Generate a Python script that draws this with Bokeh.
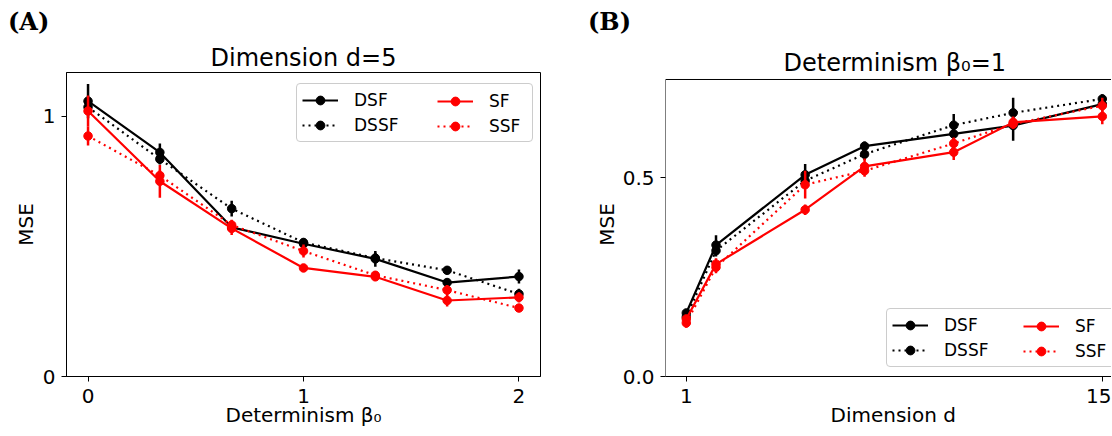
from bokeh.plotting import figure
from bokeh.models import (ColumnDataSource, Legend, LegendItem, FixedTicker, Range1d,
                          Title, Div, BoxAnnotation)
from bokeh.layouts import row, column
from bokeh.embed import file_html
from bokeh.resources import INLINE

FONT = "DejaVu Sans"

# ---------------- data ----------------
series_names = ["DSF", "DSSF", "SF", "SSF"]

# Panel A: Dimension d=5, x = determinism beta0
beta0 = [0, 1/3, 2/3, 1, 4/3, 5/3, 2]
a_dsf = [1.058, 0.861, 0.573, 0.510, 0.452, 0.361, 0.384]
a_dsf_err = [0.066, 0.034, 0.015, 0.020, 0.030, 0.015, 0.027]
a_dssf = [1.035, 0.835, 0.645, 0.515, 0.455, 0.408, 0.317]
a_dssf_err = [0.020, 0.020, 0.030, 0.015, 0.020, 0.015, 0.020]
a_sf = [1.020, 0.750, 0.569, 0.417, 0.383, 0.292, 0.304]
a_sf_err = [0.060, 0.063, 0.025, 0.010, 0.015, 0.023, 0.020]
a_ssf = [0.924, 0.772, 0.582, 0.482, 0.389, 0.332, 0.263]
a_ssf_err = [0.036, 0.020, 0.020, 0.025, 0.015, 0.020, 0.015]

# Panel B: Determinism beta0=1, x = dimension d
dims = [1, 2, 5, 7, 10, 12, 15]
b_dsf = [0.160, 0.331, 0.508, 0.580, 0.611, 0.632, 0.686]
b_dsf_err = [0.010, 0.025, 0.027, 0.012, 0.015, 0.038, 0.015]
b_dssf = [0.150, 0.317, 0.493, 0.560, 0.633, 0.664, 0.699]
b_dssf_err = [0.010, 0.015, 0.015, 0.015, 0.028, 0.038, 0.012]
b_sf = [0.145, 0.283, 0.420, 0.529, 0.565, 0.640, 0.655]
b_sf_err = [0.010, 0.015, 0.013, 0.020, 0.020, 0.015, 0.020]
b_ssf = [0.135, 0.275, 0.483, 0.518, 0.587, 0.636, 0.682]
b_ssf_err = [0.012, 0.015, 0.035, 0.015, 0.015, 0.012, 0.020]

a_xticks = [0, 1, 2]
a_xtick_labels = ["0", "1", "2"]
a_yticks = [0, 1]
a_ytick_labels = ["0", "1"]
b_xticks = [1, 15]
b_xtick_labels = ["1", "15"]
b_yticks = [0, 0.5]
b_ytick_labels = ["0.0", "0.5"]

STYLES = {
    "DSF": ("#000000", "solid"),
    "DSSF": ("#000000", "2 4"),
    "SF": ("#ff0000", "solid"),
    "SSF": ("#ff0000", "2 4"),
}


def key(t):
    return int(t) if float(t).is_integer() else t


FRAME_H = 304
BORDER_TOP = 37
BORDER_BOTTOM = 60


def make_panel(xs, ys, errs, xr, yr, xticks, xlabels, yticks, ylabels,
               frame_w, bl, br, ylab_standoff):
    p = figure(frame_width=frame_w, frame_height=FRAME_H,
               x_range=Range1d(*xr), y_range=Range1d(*yr),
               output_backend="svg", toolbar_location=None,
               min_border_left=bl, min_border_right=br,
               min_border_top=BORDER_TOP, min_border_bottom=BORDER_BOTTOM)
    p.grid.visible = False
    p.outline_line_color = "black"
    p.outline_line_width = 1
    p.outline_line_alpha = 1
    p.background_fill_color = "white"
    p.border_fill_color = "white"
    for ax in (p.xaxis[0], p.yaxis[0]):
        ax.major_tick_out = 5
        ax.major_tick_in = 0
        ax.minor_tick_out = 0
        ax.minor_tick_in = 0
        ax.major_tick_line_color = "black"
        ax.axis_line_color = "black"
        ax.major_label_text_font = FONT
        ax.major_label_text_font_size = "20px"
        ax.major_label_text_color = "black"
        ax.axis_label_text_font = FONT
        ax.axis_label_text_font_size = "20px"
        ax.axis_label_text_font_style = "normal"
        ax.axis_label_text_color = "black"
    p.xaxis.major_label_standoff = 7
    p.yaxis.major_label_standoff = 6
    p.xaxis.ticker = FixedTicker(ticks=xticks)
    p.xaxis.major_label_overrides = {key(t): l for t, l in zip(xticks, xlabels)}
    p.yaxis.ticker = FixedTicker(ticks=yticks)
    p.yaxis.major_label_overrides = {key(t): l for t, l in zip(yticks, ylabels)}
    p.yaxis.axis_label = "MSE"
    p.yaxis.axis_label_standoff = ylab_standoff

    rends = {}
    for name in series_names:
        color, dash = STYLES[name]
        y = ys[name]
        e = errs[name]
        src = ColumnDataSource(dict(x=xs, y=y,
                                    lo=[a - b for a, b in zip(y, e)],
                                    hi=[a + b for a, b in zip(y, e)]))
        p.segment(x0="x", y0="lo", x1="x", y1="hi", source=src, line_color=color, line_width=2.5)
        lr = p.line("x", "y", source=src, line_color=color, line_width=2.2, line_dash=dash)
        sr = p.scatter("x", "y", source=src, size=8.5, marker="circle",
                       fill_color=color, line_color=color, line_width=1)
        rends[name] = [lr, sr]
    return p, rends


def add_legends(p, rends, loc_a, loc_b, label_width_a):
    common = dict(orientation="vertical", glyph_width=36, glyph_height=22, label_height=22,
                  spacing=3, padding=5, margin=0, label_standoff=16,
                  label_text_font=FONT, label_text_font_size="17px", label_text_color="black")
    la = Legend(items=[LegendItem(label=n, renderers=rends[n]) for n in ["DSF", "DSSF"]],
                location=loc_a, label_width=label_width_a,
                border_line_color="#cccccc", border_line_width=1, border_line_alpha=1,
                background_fill_color="white", background_fill_alpha=0.8, **common)
    if "border_radius" in Legend.properties():
        la.border_radius = 4
    lb = Legend(items=[LegendItem(label=n, renderers=rends[n]) for n in ["SF", "SSF"]],
                location=loc_b, border_line_alpha=0, background_fill_alpha=0, **common)
    p.add_layout(la)
    p.add_layout(lb)


def make_title(text, align, offset, standoff, size="24px"):
    return Title(text=text, align=align, offset=offset, text_font=FONT, text_font_size=size,
                 text_font_style="normal", text_color="black", standoff=standoff)


# ---------------- panel A ----------------
pa, ra = make_panel(beta0,
                    {"DSF": a_dsf, "DSSF": a_dssf, "SF": a_sf, "SSF": a_ssf},
                    {"DSF": a_dsf_err, "DSSF": a_dssf_err, "SF": a_sf_err, "SSF": a_ssf_err},
                    (-0.1, 2.1), (0, 1.168), a_xticks, a_xtick_labels, a_yticks, a_ytick_labels,
                    474, 58, 20, 2)
pa.title = make_title("Dimension d=5", "center", 0, 1)
pa.add_layout(make_title("Determinism β₀", "center", 0, -10, "20px"), "below")
add_legends(pa, ra, (230, 234), (366, 234), 173)

# ---------------- panel B ----------------
# B's axes box spans d in 0.3..15.7 and MSE in 0..0.748; it is drawn as a box so that
# its top edge can sit a little lower than A's frame top, as in the original.
B_BOX = (0.3, 15.7, 0.0, 0.748)
pb, rb = make_panel(dims,
                    {"DSF": b_dsf, "DSSF": b_dssf, "SF": b_sf, "SSF": b_ssf},
                    {"DSF": b_dsf_err, "DSSF": b_dssf_err, "SF": b_sf_err, "SSF": b_ssf_err},
                    (0.3, 15.31), (0.0, 0.7656), b_xticks, b_xtick_labels, b_yticks, b_ytick_labels,
                    446, 105, 0, 1)
pb.outline_line_color = None
pb.yaxis.axis_line_color = None
pb.add_layout(BoxAnnotation(left=B_BOX[0], right=B_BOX[1], bottom=B_BOX[2], top=B_BOX[3],
                            fill_alpha=0, line_color="black", line_width=1, line_alpha=1))
pb.title = make_title("Determinism β₀=1", "left", 118, -9)
pb.add_layout(make_title("Dimension d", "left", 165, -10, "20px"), "below")
add_legends(pb, rb, (221, 9), (353, 9), 173)

# ---------------- panel letters ----------------
tag_style = {"font-family": "DejaVu Serif", "font-weight": "bold", "font-size": "24px",
             "color": "black", "line-height": "28px"}
tag_a = Div(text="(A)", width=580, height=27, margin=(0, 0, 0, 0), styles=tag_style)
tag_b = Div(text="(B)", width=520, height=27, margin=(0, 0, 0, 0), styles=tag_style)

layout = column(row(tag_a, tag_b), row(pa, pb))
layout.margin = (8, 0, 0, 8)
open("out.html", "w").write(file_html(layout, INLINE))
